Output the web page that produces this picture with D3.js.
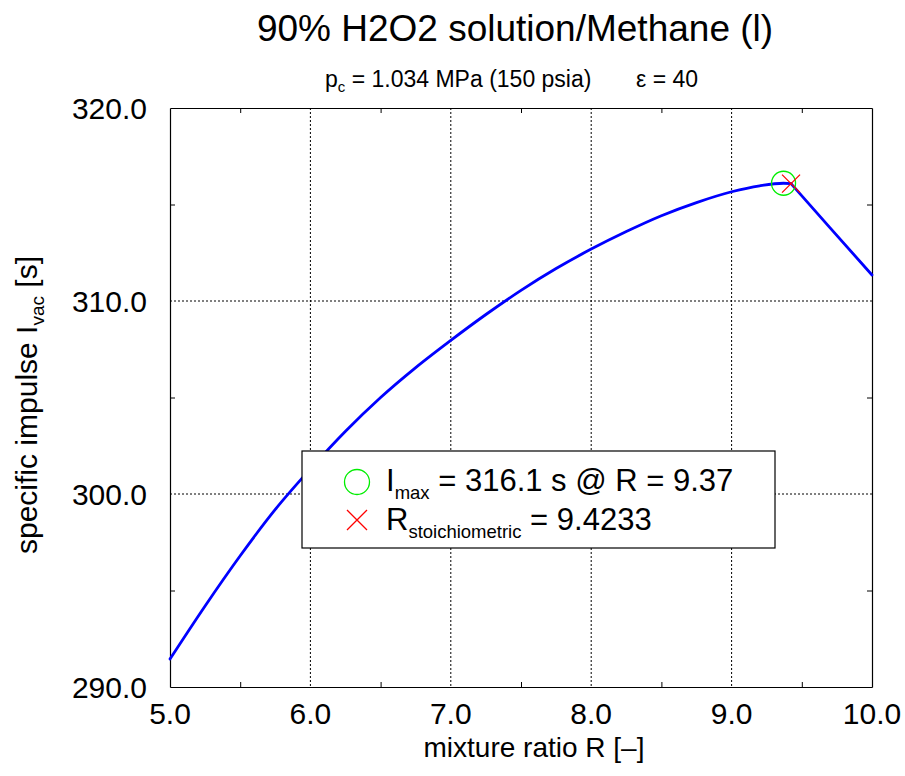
<!DOCTYPE html>
<html>
<head>
<meta charset="utf-8">
<script src="https://cdn.jsdelivr.net/npm/d3@7"></script>
<style>
  html, body { margin: 0; padding: 0; background: #fff; }
  svg { display: block; font-family: "Liberation Sans", Arial, Helvetica, sans-serif; }
</style>
</head>
<body>
<svg id="chart" width="905" height="776"></svg>
<script>
// Vacuum specific impulse vs. mixture ratio (fuel-rich branch up to stoichiometric, then lean branch)
const mixtureRatio = [5.0, 5.25, 5.5, 5.75, 6.0, 6.25, 6.5, 6.75, 7.0, 7.25, 7.5, 7.75, 8.0, 8.25, 8.5, 8.75, 9.0, 9.2, 9.37, 9.4233, 9.7, 10.0];
const specificImpulse = [291.45, 294.2, 296.8, 299.2, 301.3, 303.25, 305.0, 306.55, 307.96, 309.3, 310.55, 311.68, 312.69, 313.6, 314.42, 315.1, 315.66, 315.97, 316.1, 316.08, 313.8, 311.35];

const xTicks = [5, 6, 7, 8, 9, 10];
const yTicks = [290, 300, 310, 320];
const xMinor = [5.5, 6.5, 7.5, 8.5, 9.5];
const yMinor = [295, 305, 315];

const iMaxR = 9.37, iMax = 316.1;
const stoichR = 9.4233, stoichIsp = 316.08;

const titleText = "90% H2O2 solution/Methane (l)";

const svg = d3.select("#chart");
const m = { left: 170, right: 872, top: 108, bottom: 687 };

const x = d3.scaleLinear().domain([5, 10]).range([m.left, m.right]);
const y = d3.scaleLinear().domain([290, 320]).range([m.bottom, m.top]);

// Grid lines (dotted)
const grid = svg.append("g");
grid.selectAll("line.gx").data(xTicks.filter(d => d > 5 && d < 10)).join("line")
  .attr("x1", d => x(d)).attr("x2", d => x(d))
  .attr("y1", m.top).attr("y2", m.bottom)
  .attr("stroke", "#000").attr("stroke-width", 1).attr("stroke-dasharray", "2,2");
grid.selectAll("line.gy").data(yTicks.filter(d => d > 290 && d < 320)).join("line")
  .attr("y1", d => y(d)).attr("y2", d => y(d))
  .attr("x1", m.left).attr("x2", m.right)
  .attr("stroke", "#000").attr("stroke-width", 1).attr("stroke-dasharray", "2,2");

// Axes on all four sides with inward ticks
const axisStyle = g => {
  g.select(".domain").attr("stroke", "#000").attr("stroke-width", 1.2);
  g.selectAll(".tick line").attr("stroke", "#000");
};
svg.append("g").attr("transform", `translate(0,${m.bottom})`)
  .call(d3.axisBottom(x).tickValues(xMinor).tickSize(-5).tickSizeOuter(0).tickFormat(""))
  .call(axisStyle);
svg.append("g").attr("transform", `translate(0,${m.top})`)
  .call(d3.axisTop(x).tickValues(xMinor).tickSize(-5).tickSizeOuter(0).tickFormat(""))
  .call(axisStyle);
svg.append("g").attr("transform", `translate(${m.left},0)`)
  .call(d3.axisLeft(y).tickValues(yMinor).tickSize(-5).tickSizeOuter(0).tickFormat(""))
  .call(axisStyle);
svg.append("g").attr("transform", `translate(${m.right},0)`)
  .call(d3.axisRight(y).tickValues(yMinor).tickSize(-5).tickSizeOuter(0).tickFormat(""))
  .call(axisStyle);

// Tick labels
svg.append("g").selectAll("text").data(xTicks).join("text")
  .attr("x", d => x(d)).attr("y", 724)
  .attr("text-anchor", "middle").attr("font-size", 30)
  .text(d => d3.format(".1f")(d));
svg.append("g").selectAll("text").data(yTicks).join("text")
  .attr("x", 147).attr("y", d => y(d)).attr("dy", "0.36em")
  .attr("text-anchor", "end").attr("font-size", 30)
  .text(d => d3.format(".1f")(d));

// Curve: smooth rich branch, straight lean branch with a kink at stoichiometric
const pts = mixtureRatio.map((r, i) => [r, specificImpulse[i]]);
const rich = pts.filter(p => p[0] <= stoichR);
const lean = pts.filter(p => p[0] >= stoichR);
const lineGen = d3.line().x(d => x(d[0])).y(d => y(d[1]));
svg.append("path").datum(rich)
  .attr("fill", "none").attr("stroke", "#0000ff").attr("stroke-width", 2.8)
  .attr("stroke-linecap", "round")
  .attr("d", lineGen.curve(d3.curveMonotoneX));
svg.append("path").datum(lean)
  .attr("fill", "none").attr("stroke", "#0000ff").attr("stroke-width", 2.8)
  .attr("stroke-linecap", "round")
  .attr("d", d3.line().x(d => x(d[0])).y(d => y(d[1]))(lean));

// Markers: maximum Isp and stoichiometric ratio
const crossPath = (cx, cy, h) => `M${cx - h},${cy - h}L${cx + h},${cy + h}M${cx - h},${cy + h}L${cx + h},${cy - h}`;
svg.append("circle").attr("cx", x(iMaxR)).attr("cy", y(iMax)).attr("r", 12)
  .attr("fill", "none").attr("stroke", "#00ee00").attr("stroke-width", 1.3);
svg.append("path").attr("d", crossPath(x(stoichR), y(stoichIsp), 9))
  .attr("stroke", "#ff0000").attr("stroke-width", 1.3).attr("fill", "none");

// Legend
const lg = svg.append("g");
lg.append("rect").attr("x", 302).attr("y", 451).attr("width", 473).attr("height", 97)
  .attr("fill", "#fff").attr("stroke", "#000").attr("stroke-width", 1.2);
lg.append("circle").attr("cx", 357).attr("cy", 482).attr("r", 12.5)
  .attr("fill", "none").attr("stroke", "#00ee00").attr("stroke-width", 1.3);
lg.append("path").attr("d", crossPath(357, 520, 10))
  .attr("stroke", "#ff0000").attr("stroke-width", 1.3).attr("fill", "none");
const t1 = lg.append("text").attr("x", 386).attr("y", 491).attr("font-size", 31);
t1.append("tspan").text("I");
t1.append("tspan").attr("font-size", 18.5).attr("dy", 8).text("max");
t1.append("tspan").attr("dy", -8).text(` = ${iMax} s @ R = ${iMaxR}`);
const t2 = lg.append("text").attr("x", 386).attr("y", 530).attr("font-size", 31);
t2.append("tspan").text("R");
t2.append("tspan").attr("font-size", 18.5).attr("dy", 8).text("stoichiometric");
t2.append("tspan").attr("dy", -8).text(` = ${stoichR}`);

// Titles
svg.append("text").attr("x", 515).attr("y", 41).attr("text-anchor", "middle")
  .attr("font-size", 37).text(titleText);
const sub = svg.append("text").attr("x", 325).attr("y", 87).attr("font-size", 23);
sub.append("tspan").text("p");
sub.append("tspan").attr("font-size", 15).attr("dy", 5).text("c");
sub.append("tspan").attr("dy", -5).text(" = 1.034 MPa (150 psia)");
svg.append("text").attr("x", 636).attr("y", 87).attr("font-size", 23).text("ε = 40");

// Axis titles
svg.append("text").attr("x", 534).attr("y", 757).attr("text-anchor", "middle")
  .attr("font-size", 28).text("mixture ratio R [–]");
const yt = svg.append("text").attr("transform", `translate(37,405) rotate(-90)`)
  .attr("text-anchor", "middle").attr("font-size", 30);
yt.append("tspan").text("specific impulse I");
yt.append("tspan").attr("font-size", 19).attr("dy", 7).text("vac");
yt.append("tspan").attr("dy", -7).text(" [s]");
</script>
</body>
</html>
